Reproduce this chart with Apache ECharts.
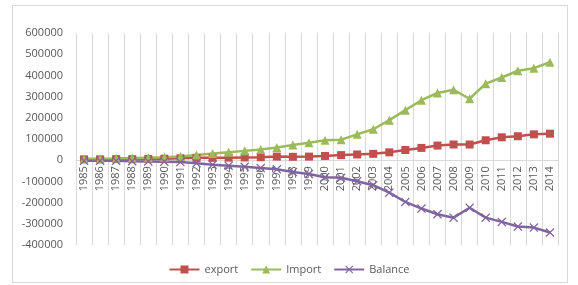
<!DOCTYPE html>
<html>
<head>
<meta charset="utf-8">
<script src="https://cdn.jsdelivr.net/npm/echarts@6/dist/echarts.min.js"></script>
<style>
  html, body { margin: 0; padding: 0; background: #fff; }
  .wrap { position: relative; width: 578px; height: 285px; }
  .frame {
    position: absolute; left: 12px; top: 5px; width: 556px; height: 278px;
    border: 1px solid #d9d9d9; box-sizing: border-box; pointer-events: none;
  }
  #chart { width: 578px; height: 285px; }
</style>
</head>
<body>
<div class="wrap">
  <div class="frame"></div>
  <div id="chart"></div>
</div>
<script>
// years on the x axis
const years = [
  '1985', '1986', '1987', '1988', '1989', '1990', '1991', '1992', '1993', '1994',
  '1995', '1996', '1997', '1998', '1999', '2000', '2001', '2002', '2003', '2004',
  '2005', '2006', '2007', '2008', '2009', '2010', '2011', '2012', '2013', '2014'
]

const exportValues = [
  4000, 4000, 5000, 5000, 6000, 7000, 9000, 11000, 11000, 12000,
  13000, 14000, 17000, 16000, 17000, 20000, 24000, 27000, 30000, 37000,
  48000, 58000, 69000, 74000, 74000, 94000, 108000, 113000, 122000, 125000
]

const importValues = [
  7000, 7000, 8000, 10000, 12000, 14000, 18000, 25000, 32000, 38000,
  44000, 51000, 60000, 72000, 82000, 94000, 97000, 122000, 146000, 189000,
  236000, 283000, 317000, 332000, 290000, 361000, 390000, 422000, 434000, 462000
]

const balanceValues = [
  -3000, -3000, -3000, -5000, -6000, -7000, -9000, -14000, -21000, -26000,
  -31000, -37000, -43000, -56000, -65000, -80000, -83000, -99000, -118000, -153000,
  -197000, -228000, -255000, -271000, -224000, -271000, -291000, -313000, -318000, -341000
]

const yMin = -400000
const yMax = 600000
const crossSymbol = 'path://M0,1 L1,0 L5,4 L9,0 L10,1 L6,5 L10,9 L9,10 L5,6 L1,10 L0,9 L4,5 Z'
const textColor = '#595959'
const gridColor = '#d9d9d9'

const gridTop = 33
const gridBottom = 40
const plotHeight = 285 - gridTop - gridBottom
// move the category axis up to the zero line
const zeroOffset = -plotHeight * (0 - yMin) / (yMax - yMin)

const option = {
  animation: false,
  textStyle: { fontFamily: 'Open Sans, DejaVu Sans, sans-serif' },
  grid: {
    left: 76,
    right: 20,
    top: gridTop,
    bottom: gridBottom
  },
  legend: {
    bottom: 5,
    left: 'center',
    itemWidth: 30,
    itemHeight: 10,
    itemGap: 12,
    textStyle: { color: textColor, fontSize: 11 },
    data: ['export', 'Import', 'Balance']
  },
  xAxis: [
    {
      type: 'category',
      data: years,
      boundaryGap: true,
      axisLine: { show: false },
      axisTick: { show: false },
      axisLabel: { show: false },
      splitLine: { show: true, interval: 0, lineStyle: { color: gridColor } }
    },
    {
      type: 'category',
      data: years,
      position: 'bottom',
      offset: zeroOffset,
      boundaryGap: true,
      axisLine: { show: true, onZero: false, lineStyle: { color: gridColor } },
      axisTick: { show: false },
      axisLabel: {
        rotate: 90,
        interval: 0,
        margin: 6,
        color: textColor,
        fontSize: 11
      },
      splitLine: { show: false }
    }
  ],
  yAxis: {
    type: 'value',
    min: yMin,
    max: yMax,
    interval: 100000,
    axisLine: { show: false },
    axisTick: { show: false },
    axisLabel: { color: textColor, fontSize: 11, margin: 13, formatter: v => String(v) },
    splitLine: { show: false }
  },
  series: [
    {
      name: 'export',
      type: 'line',
      data: exportValues,
      color: '#c0504d',
      symbol: 'rect',
      symbolSize: 8,
      lineStyle: { width: 2.5 }
    },
    {
      name: 'Import',
      type: 'line',
      data: importValues,
      color: '#9bbb59',
      symbol: 'triangle',
      symbolSize: 9,
      lineStyle: { width: 2.5 }
    },
    {
      name: 'Balance',
      type: 'line',
      data: balanceValues,
      color: '#8064a2',
      symbol: crossSymbol,
      symbolSize: 9,
      lineStyle: { width: 2.5 }
    }
  ]
}

const chart = echarts.init(document.getElementById('chart'))
chart.setOption(option)
</script>
</body>
</html>
